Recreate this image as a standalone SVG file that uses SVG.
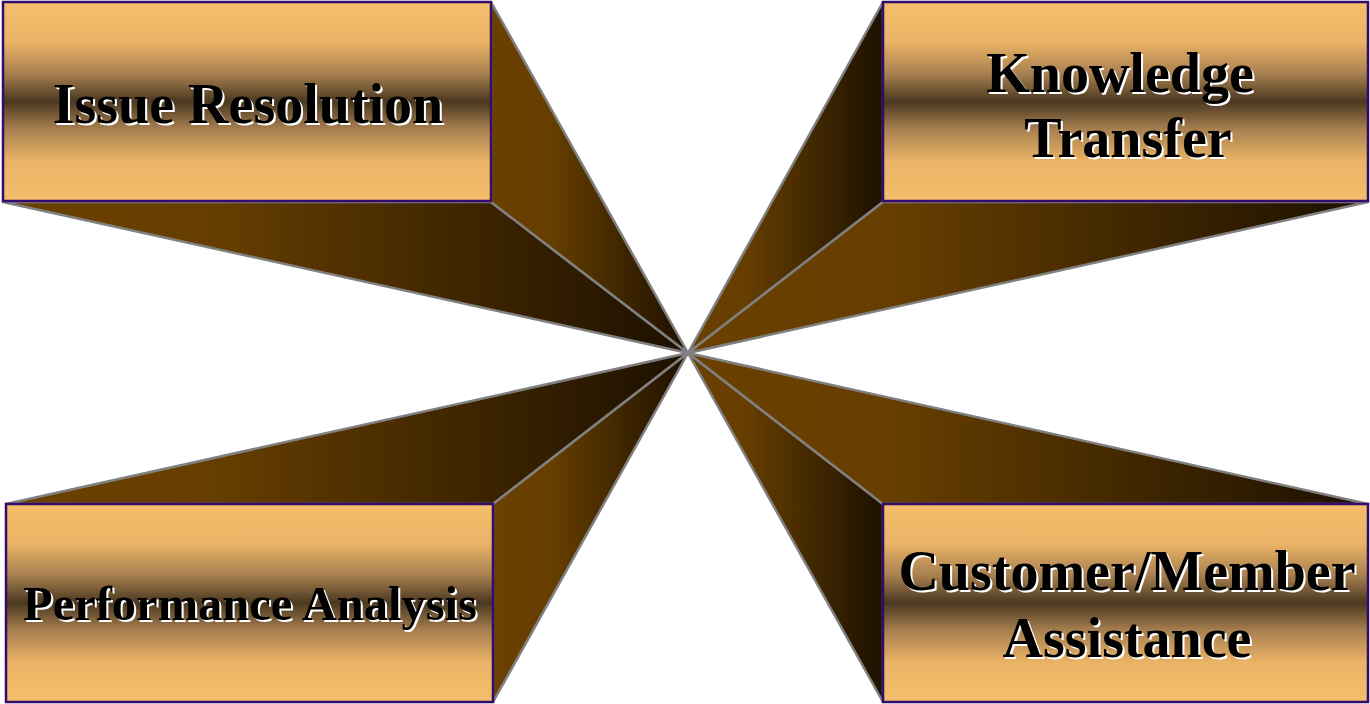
<svg xmlns="http://www.w3.org/2000/svg" width="1370" height="704" viewBox="0 0 1370 704">
<defs>
<linearGradient id="face" x1="0" y1="0" x2="1" y2="0">
<stop offset="0" stop-color="#6b4000"/>
<stop offset="0.3" stop-color="#663e00"/>
<stop offset="1" stop-color="#1c1000"/>
</linearGradient>
<linearGradient id="box" x1="0" y1="0" x2="0" y2="1">
<stop offset="0" stop-color="#f4be6c"/>
<stop offset="0.2" stop-color="#eab366"/>
<stop offset="0.36" stop-color="#a88050"/>
<stop offset="0.5" stop-color="#4a3820"/>
<stop offset="0.64" stop-color="#a88050"/>
<stop offset="0.8" stop-color="#eab366"/>
<stop offset="1" stop-color="#f4be6c"/>
</linearGradient>
<style>
.face{fill:url(#face);stroke:#808080;stroke-width:2.5;stroke-linejoin:round}
.box{fill:url(#box);stroke:#330a6e;stroke-width:2.5}
.t{font-family:"Liberation Serif","Times New Roman",serif;font-weight:bold;text-anchor:middle}
.sh{fill:#ffffff}
.fg{fill:#000000}
</style>
</defs>
<g id="connectors">
<polygon class="face" points="3,202 491,202 688,353"/>
<polygon class="face" points="491,2 491,202 688,353"/>
<polygon class="face" points="883,2 883,202 688,353"/>
<polygon class="face" points="883,202 1368,202 688,353"/>
<polygon class="face" points="6,504 493,504 688,353"/>
<polygon class="face" points="493,504 493,702 688,353"/>
<polygon class="face" points="883,504 883,702 688,353"/>
<polygon class="face" points="883,504 1368,504 688,353"/>
</g>
<g id="issue-resolution">
<rect class="box" x="3" y="2" width="488" height="199"/>
<text class="t sh" x="250" y="125" font-size="56">Issue Resolution</text>
<text class="t fg" x="248" y="123" font-size="56">Issue Resolution</text>
</g>
<g id="knowledge-transfer">
<rect class="box" x="883" y="2" width="485" height="199"/>
<text class="t sh" font-size="56"><tspan x="1122" y="94">Knowledge</tspan><tspan x="1130" y="159">Transfer</tspan></text>
<text class="t fg" font-size="56"><tspan x="1120" y="92">Knowledge</tspan><tspan x="1128" y="157">Transfer</tspan></text>
</g>
<g id="performance-analysis">
<rect class="box" x="6" y="504" width="487" height="198"/>
<text class="t sh" x="252" y="622" font-size="48.5">Performance Analysis</text>
<text class="t fg" x="250" y="620" font-size="48.5">Performance Analysis</text>
</g>
<g id="customer-member-assistance">
<rect class="box" x="883" y="504" width="485" height="198"/>
<text class="t sh" font-size="56"><tspan x="1129" y="592">Customer/Member</tspan><tspan x="1129" y="659">Assistance</tspan></text>
<text class="t fg" font-size="56"><tspan x="1127" y="590">Customer/Member</tspan><tspan x="1127" y="657">Assistance</tspan></text>
</g>
</svg>
